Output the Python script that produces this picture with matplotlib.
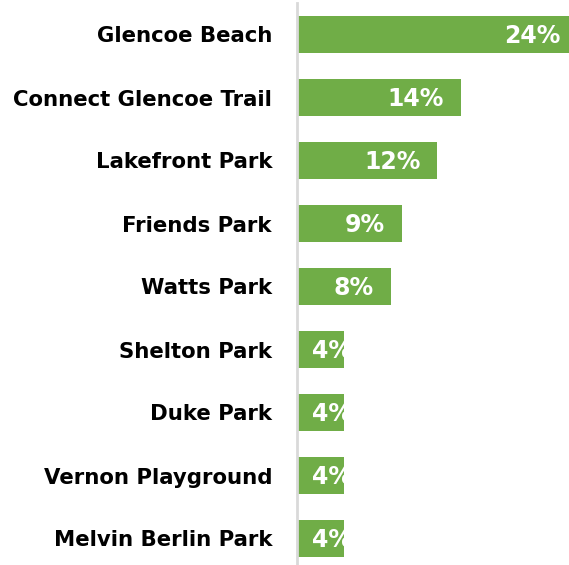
import matplotlib
matplotlib.use("Agg")
import matplotlib.pyplot as plt

# values (percent)
parks = ["Glencoe Beach", "Connect Glencoe Trail", "Lakefront Park", "Friends Park",
         "Watts Park", "Shelton Park", "Duke Park", "Vernon Playground", "Melvin Berlin Park"]
shares = [24, 14, 12, 9, 8, 4, 4, 4, 4]

bar_color = "#70AD47"
W, H = 569, 565

fig = plt.figure(figsize=(W / 100, H / 100), dpi=100)
# axes runs off the bottom a bit, like the original export
ax = fig.add_axes([297 / W, -5 / H, (W - 297) / W, 567 / H])

px_per_pct = 11.7
ax.set_xlim(0, (W - 297) / px_per_pct)
ax.set_ylim(len(parks) - 0.5, -0.5)

ypos = list(range(len(parks)))
bars = ax.barh(ypos, shares, height=0.58, color=bar_color)

pad = 17 / px_per_pct
for bar, y, v in zip(bars, ypos, shares):
    if v > 6:
        t = ax.text(v - pad, y + 0.03, f"{v}%", ha="right", va="center",
                    color="white", fontsize=17, fontweight="bold")
    else:
        t = ax.text(15 / px_per_pct, y + 0.03, f"{v}%", ha="left", va="center",
                    color="white", fontsize=17, fontweight="bold")
    t.set_clip_path(bar)

ax.set_yticks(ypos)
ax.set_yticklabels(parks, fontsize=15.3, fontweight="bold")
ax.tick_params(axis="y", length=0, pad=18)
ax.set_xticks([])

for s in ["top", "right", "bottom"]:
    ax.spines[s].set_visible(False)
ax.spines["left"].set_color("#D9D9D9")
ax.spines["left"].set_linewidth(2)

fig.savefig("out.png", dpi=100)
